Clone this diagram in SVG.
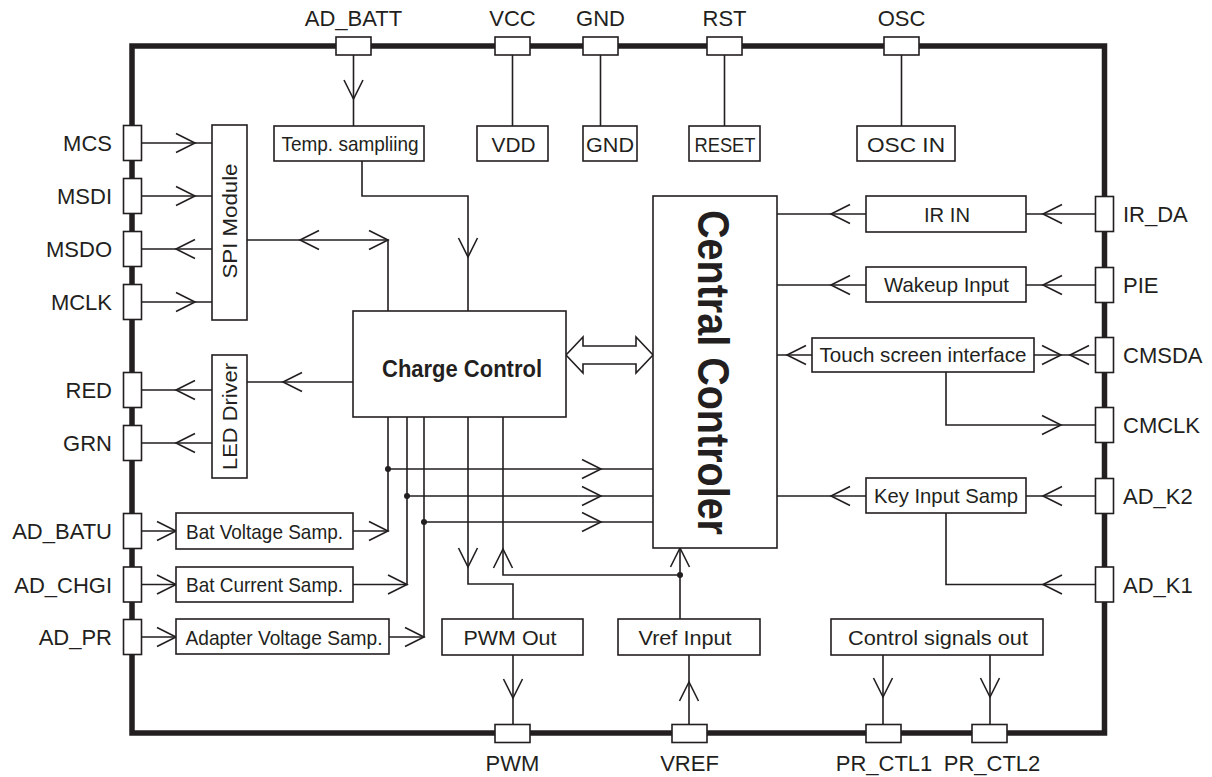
<svg xmlns="http://www.w3.org/2000/svg" xmlns:xlink="http://www.w3.org/1999/xlink" width="1212" height="777" viewBox="0 0 1212 777">
<style>
text{font-family:"Liberation Sans",Arial,Helvetica,sans-serif;fill:#231f20}
.lbl{font-size:22px}
.bx{font-size:21px}
.bold{font-weight:bold}
.box{fill:#fff;stroke:#231f20;stroke-width:1.6}
.pin{fill:#fff;stroke:#231f20;stroke-width:1.6}
.ln{fill:none;stroke:#231f20;stroke-width:1.6}
.ah{fill:none;stroke:#231f20;stroke-width:1.6}
.border{fill:none;stroke:#231f20;stroke-width:5.5;stroke-linejoin:miter}
.dot{fill:#231f20}
</style>
<defs>
<path id="ah" d="M-19,-9.5 L0,0 L-19,9.5"/>
</defs>
<rect width="1212" height="777" fill="#fff"/>

<path class="border" d="M132,733 V46 H1104.5 V733 Z"/>

<g id="connectors">
<path class="ln" d="M353.5,55 V126 M512.5,55 V126 M600.5,55 V126 M724.5,55 V126 M901.5,55 V126"/>
<path class="ln" d="M141.5,143 H212 M141.5,196 H212 M141.5,249 H212 M141.5,302 H212"/>
<path class="ln" d="M247,240 H388 V311"/>
<path class="ln" d="M362,161 V196 H468 V311"/>
<path class="ln" d="M353,382 H247 M212,390 H141.5 M212,443 H141.5"/>
<path class="ln" d="M141.5,531 H176 M353,531 H388 V417 M141.5,584.5 H176 M353,584.5 H407 V417 M141.5,637 H176 M389,637 H424 V417"/>
<path class="ln" d="M388,469 H653 M407,496 H653 M424,522 H653"/>
<path class="ln" d="M468,417 V584 H513 V619 M503,417 V575 H680 M680,619 V548"/>
<path class="ln" d="M513,655 V725 M689,725 V655 M883,655 V725 M990,655 V725"/>
<path class="ln" d="M1095.5,214 H1026 M866,214 H777 M1095.5,285 H1026 M866,285 H777 M1095.5,355 H1034 M812,355 H777 M946,372 V425 H1095.5 M1095.5,496 H1026 M866,496 H777 M946,513 V584.5 H1095.5"/>
<polygon class="box" points="566,355 583,337 583,346 636,346 636,337 653,355 636,373 636,364 583,364 583,373"/>
<g class="ah">
<use xlink:href="#ah" transform="translate(195,143)"/>
<use xlink:href="#ah" transform="translate(195,196)"/>
<use xlink:href="#ah" transform="translate(195,302)"/>
<use xlink:href="#ah" transform="translate(388,240)"/>
<use xlink:href="#ah" transform="translate(176,531)"/>
<use xlink:href="#ah" transform="translate(176,584.5)"/>
<use xlink:href="#ah" transform="translate(176,637)"/>
<use xlink:href="#ah" transform="translate(388,531)"/>
<use xlink:href="#ah" transform="translate(407,584.5)"/>
<use xlink:href="#ah" transform="translate(424,637)"/>
<use xlink:href="#ah" transform="translate(601,469)"/>
<use xlink:href="#ah" transform="translate(601,496)"/>
<use xlink:href="#ah" transform="translate(601,522)"/>
<use xlink:href="#ah" transform="translate(1061,355)"/>
<use xlink:href="#ah" transform="translate(1061,425)"/>
<use xlink:href="#ah" transform="translate(176,249) rotate(180)"/>
<use xlink:href="#ah" transform="translate(300,240) rotate(180)"/>
<use xlink:href="#ah" transform="translate(283,382) rotate(180)"/>
<use xlink:href="#ah" transform="translate(176,390) rotate(180)"/>
<use xlink:href="#ah" transform="translate(176,443) rotate(180)"/>
<use xlink:href="#ah" transform="translate(1043,214) rotate(180)"/>
<use xlink:href="#ah" transform="translate(831,214) rotate(180)"/>
<use xlink:href="#ah" transform="translate(1043,285) rotate(180)"/>
<use xlink:href="#ah" transform="translate(831,285) rotate(180)"/>
<use xlink:href="#ah" transform="translate(1070,355) rotate(180)"/>
<use xlink:href="#ah" transform="translate(787,355) rotate(180)"/>
<use xlink:href="#ah" transform="translate(1043,496) rotate(180)"/>
<use xlink:href="#ah" transform="translate(831,496) rotate(180)"/>
<use xlink:href="#ah" transform="translate(1043,584.5) rotate(180)"/>
<use xlink:href="#ah" transform="translate(353.5,99) rotate(90)"/>
<use xlink:href="#ah" transform="translate(468,257) rotate(90)"/>
<use xlink:href="#ah" transform="translate(468,567) rotate(90)"/>
<use xlink:href="#ah" transform="translate(513,698) rotate(90)"/>
<use xlink:href="#ah" transform="translate(883,697) rotate(90)"/>
<use xlink:href="#ah" transform="translate(990,697) rotate(90)"/>
<use xlink:href="#ah" transform="translate(503,549) rotate(-90)"/>
<use xlink:href="#ah" transform="translate(680,548) rotate(-90)"/>
<use xlink:href="#ah" transform="translate(689,682) rotate(-90)"/>
</g>
<circle class="dot" cx="388" cy="469" r="3"/>
<circle class="dot" cx="407" cy="496" r="3"/>
<circle class="dot" cx="424" cy="522" r="3"/>
<circle class="dot" cx="680" cy="575" r="3"/>
</g>

<!-- top pins -->
<g id="pin-AD_BATT"><rect class="pin" x="336" y="37" width="35" height="18"/><text class="lbl" x="353.5" y="26" text-anchor="middle">AD_BATT</text></g>
<g id="pin-VCC"><rect class="pin" x="495" y="37" width="35" height="18"/><text class="lbl" x="512.5" y="26" text-anchor="middle">VCC</text></g>
<g id="pin-GND"><rect class="pin" x="583" y="37" width="35" height="18"/><text class="lbl" x="600.5" y="26" text-anchor="middle">GND</text></g>
<g id="pin-RST"><rect class="pin" x="707" y="37" width="35" height="18"/><text class="lbl" x="724.5" y="26" text-anchor="middle">RST</text></g>
<g id="pin-OSC"><rect class="pin" x="884" y="37" width="35" height="18"/><text class="lbl" x="901.5" y="26" text-anchor="middle">OSC</text></g>

<!-- left pins -->
<g id="pin-MCS"><rect class="pin" x="123.5" y="125.5" width="18" height="35"/><text class="lbl" x="112" y="151" text-anchor="end">MCS</text></g>
<g id="pin-MSDI"><rect class="pin" x="123.5" y="178.5" width="18" height="35"/><text class="lbl" x="112" y="204" text-anchor="end">MSDI</text></g>
<g id="pin-MSDO"><rect class="pin" x="123.5" y="231.5" width="18" height="35"/><text class="lbl" x="112" y="257" text-anchor="end">MSDO</text></g>
<g id="pin-MCLK"><rect class="pin" x="123.5" y="284.5" width="18" height="35"/><text class="lbl" x="112" y="310" text-anchor="end">MCLK</text></g>
<g id="pin-RED"><rect class="pin" x="123.5" y="372.5" width="18" height="35"/><text class="lbl" x="112" y="398" text-anchor="end">RED</text></g>
<g id="pin-GRN"><rect class="pin" x="123.5" y="425.5" width="18" height="35"/><text class="lbl" x="112" y="451" text-anchor="end">GRN</text></g>
<g id="pin-AD_BATU"><rect class="pin" x="123.5" y="513.5" width="18" height="35"/><text class="lbl" x="112" y="539" text-anchor="end">AD_BATU</text></g>
<g id="pin-AD_CHGI"><rect class="pin" x="123.5" y="567" width="18" height="35"/><text class="lbl" x="112" y="592.5" text-anchor="end">AD_CHGI</text></g>
<g id="pin-AD_PR"><rect class="pin" x="123.5" y="619.5" width="18" height="35"/><text class="lbl" x="112" y="645" text-anchor="end">AD_PR</text></g>

<!-- right pins -->
<g id="pin-IR_DA"><rect class="pin" x="1095.5" y="196.5" width="18" height="35"/><text class="lbl" x="1123" y="222">IR_DA</text></g>
<g id="pin-PIE"><rect class="pin" x="1095.5" y="267.5" width="18" height="35"/><text class="lbl" x="1123" y="293">PIE</text></g>
<g id="pin-CMSDA"><rect class="pin" x="1095.5" y="337.5" width="18" height="35"/><text class="lbl" x="1123" y="363">CMSDA</text></g>
<g id="pin-CMCLK"><rect class="pin" x="1095.5" y="407.5" width="18" height="35"/><text class="lbl" x="1123" y="433">CMCLK</text></g>
<g id="pin-AD_K2"><rect class="pin" x="1095.5" y="478.5" width="18" height="35"/><text class="lbl" x="1123" y="504">AD_K2</text></g>
<g id="pin-AD_K1"><rect class="pin" x="1095.5" y="567" width="18" height="35"/><text class="lbl" x="1123" y="592.5">AD_K1</text></g>

<!-- bottom pins -->
<g id="pin-PWM"><rect class="pin" x="495" y="724.5" width="35" height="18"/><text class="lbl" x="512.5" y="771" text-anchor="middle">PWM</text></g>
<g id="pin-VREF"><rect class="pin" x="672" y="724.5" width="35" height="18"/><text class="lbl" x="689.5" y="771" text-anchor="middle">VREF</text></g>
<g id="pin-PR_CTL1"><rect class="pin" x="866" y="724.5" width="35" height="18"/><text class="lbl" x="884" y="771" text-anchor="middle">PR_CTL1</text></g>
<g id="pin-PR_CTL2"><rect class="pin" x="972" y="724.5" width="35" height="18"/><text class="lbl" x="992" y="771" text-anchor="middle">PR_CTL2</text></g>

<!-- blocks -->
<g id="temp-sampling"><rect class="box" x="274" y="126" width="150" height="35"/><text class="bx" x="350" y="151" text-anchor="middle" textLength="137" lengthAdjust="spacingAndGlyphs">Temp. sampliing</text></g>
<g id="vdd"><rect class="box" x="477" y="126" width="71" height="35"/><text class="bx" x="513.5" y="151.5" text-anchor="middle" textLength="44" lengthAdjust="spacingAndGlyphs">VDD</text></g>
<g id="gnd"><rect class="box" x="583" y="126" width="54" height="35"/><text class="bx" x="610" y="151.5" text-anchor="middle" textLength="48" lengthAdjust="spacingAndGlyphs">GND</text></g>
<g id="reset"><rect class="box" x="689" y="126" width="71" height="35"/><text class="bx" x="725" y="151.5" text-anchor="middle" textLength="61" lengthAdjust="spacingAndGlyphs">RESET</text></g>
<g id="osc-in"><rect class="box" x="857" y="126" width="98" height="35"/><text class="bx" x="906" y="151.5" text-anchor="middle" textLength="78" lengthAdjust="spacingAndGlyphs">OSC  IN</text></g>

<g id="spi-module"><rect class="box" x="212" y="125" width="35" height="195"/><text class="bx" transform="translate(229.5,221) rotate(-90)" x="0" y="7.5" text-anchor="middle" textLength="115" lengthAdjust="spacingAndGlyphs">SPI Module</text></g>
<g id="led-driver"><rect class="box" x="212" y="355" width="35" height="123"/><text class="bx" transform="translate(229.5,416.5) rotate(-90)" x="0" y="7.5" text-anchor="middle" textLength="107" lengthAdjust="spacingAndGlyphs">LED Driver</text></g>

<g id="bat-voltage"><rect class="box" x="176" y="513" width="177" height="36"/><text class="bx" x="264.5" y="538.5" text-anchor="middle" textLength="157" lengthAdjust="spacingAndGlyphs">Bat Voltage Samp.</text></g>
<g id="bat-current"><rect class="box" x="176" y="567" width="177" height="35"/><text class="bx" x="264.5" y="592" text-anchor="middle" textLength="157" lengthAdjust="spacingAndGlyphs">Bat Current Samp.</text></g>
<g id="adapter-voltage"><rect class="box" x="176" y="619" width="213" height="35"/><text class="bx" x="284" y="644.5" text-anchor="middle" textLength="197" lengthAdjust="spacingAndGlyphs">Adapter Voltage Samp.</text></g>

<g id="charge-control"><rect class="box" x="353" y="311" width="213" height="106"/><text class="bold" x="462" y="376.5" font-size="23" text-anchor="middle" textLength="160" lengthAdjust="spacingAndGlyphs">Charge Control</text></g>

<g id="central-controler"><rect class="box" x="653" y="196" width="124" height="352"/><text class="bold" transform="translate(714,372.5) rotate(90)" x="0" y="16" font-size="44" text-anchor="middle" textLength="325" lengthAdjust="spacingAndGlyphs">Central Controler</text></g>

<g id="pwm-out"><rect class="box" x="442" y="619" width="141" height="36"/><text class="bx" x="510" y="644.5" text-anchor="middle" textLength="93" lengthAdjust="spacingAndGlyphs">PWM Out</text></g>
<g id="vref-input"><rect class="box" x="618" y="619" width="142" height="36"/><text class="bx" x="685" y="644.5" text-anchor="middle" textLength="93" lengthAdjust="spacingAndGlyphs">Vref Input</text></g>
<g id="control-signals-out"><rect class="box" x="831" y="619" width="212" height="36"/><text class="bx" x="938" y="644.5" text-anchor="middle" textLength="180" lengthAdjust="spacingAndGlyphs">Control signals out</text></g>

<g id="ir-in"><rect class="box" x="866" y="196" width="160" height="36"/><text class="bx" x="947" y="221.5" text-anchor="middle" textLength="46" lengthAdjust="spacingAndGlyphs">IR IN</text></g>
<g id="wakeup-input"><rect class="box" x="866" y="267" width="160" height="35"/><text class="bx" x="946.5" y="292" text-anchor="middle" textLength="125" lengthAdjust="spacingAndGlyphs">Wakeup Input</text></g>
<g id="touch-screen"><rect class="box" x="812" y="338" width="222" height="34"/><text class="bx" x="923" y="362" text-anchor="middle" textLength="207" lengthAdjust="spacingAndGlyphs">Touch screen interface</text></g>
<g id="key-input"><rect class="box" x="866" y="478" width="160" height="35"/><text class="bx" x="946" y="503" text-anchor="middle" textLength="144" lengthAdjust="spacingAndGlyphs">Key Input Samp</text></g>
</svg>
